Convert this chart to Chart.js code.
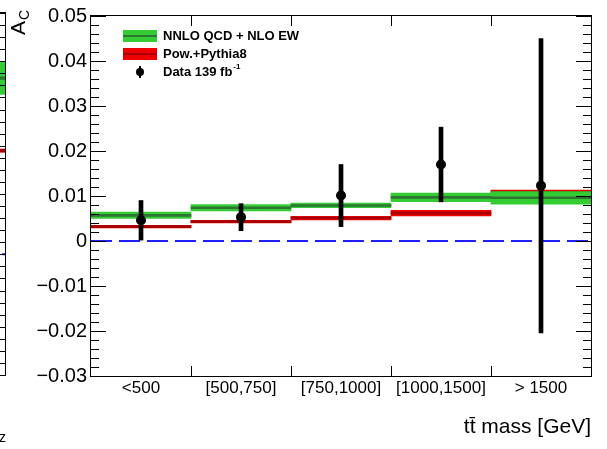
<!DOCTYPE html>
<html>
<head>
<meta charset="utf-8">
<script src="https://cdn.jsdelivr.net/npm/chart.js@4.4.0/dist/chart.umd.min.js"></script>
<style>
body { margin: 0; background: #fff; overflow: hidden; }
#wrap { position: relative; width: 607px; height: 449px; overflow: hidden; background: #fff; }
#leftChart { position: absolute; left: -194px; top: 0; }
#myChart { position: absolute; left: 0; top: 0; }
</style>
</head>
<body>
<div id="wrap">
<canvas id="leftChart" width="200" height="449"></canvas>
<canvas id="myChart" width="607" height="449"></canvas>
</div>
<script>
// ttbar mass bins
let massBins = ["<500", "[500,750]", "[750,1000]", "[1000,1500]", "> 1500"];
let binCenters = [0.5, 1.5, 2.5, 3.5, 4.5];
let binEdges = [0, 1, 2, 3, 4, 5];

let nnloValue = [0.0057, 0.0074, 0.0079, 0.0097, 0.0096];
let nnloErr = [0.0007, 0.0007, 0.0005, 0.00095, 0.0014];
let powValue = [0.0032, 0.0043, 0.0051, 0.0062, 0.0109];
let powErr = [0.0003, 0.0003, 0.0004, 0.0006, 0.0004];
let dataValue = [0.0046, 0.0053, 0.0101, 0.0170, 0.0123];
let dataErr = [0.0044, 0.0030, 0.0069, 0.0083, 0.0327];

let yTickValues = [-0.03, -0.02, -0.01, 0, 0.01, 0.02, 0.03, 0.04, 0.05];
let yTickLabels = ["\u22120.03", "\u22120.02", "\u22120.01", "0", "0.01", "0.02", "0.03", "0.04", "0.05"];
let yMin = -0.03, yMax = 0.05, yMinorStep = 0.002;

// neighbouring panel (only its last bin is visible)
let leftCenters = [0.5];
let leftNnlo = [0.0292];
let leftNnloErr = [0.0027];
let leftPow = [0.0172];
let leftPowErr = [0.00025];
let leftMin = -0.02, leftMax = 0.04;

let lineHalf = 0.00022;
let green = "#33cc33", darkGreen = "#2e7534", red = "#ee0000", darkRed = "#a80000";

Chart.defaults.font.family = "'Liberation Sans', Arial, Helvetica, sans-serif";
Chart.defaults.color = "#000";

function band(centers, vals, errs) {
    return centers.map((c, i) => ({x: c, y: [vals[i] - errs[i], vals[i] + errs[i]]}));
}
function centerLine(centers, vals) {
    return centers.map((c, i) => ({x: c, y: [vals[i] - lineHalf, vals[i] + lineHalf]}));
}

let frameTicks = {
    id: "frameTicks",
    afterDatasetsDraw(chart) {
        let ctx = chart.ctx, a = chart.chartArea;
        let xs = chart.scales.x, ys = chart.scales.y;
        ctx.save();
        ctx.strokeStyle = "#000";
        ctx.lineWidth = 1;
        ctx.beginPath();
        let n = Math.round((yMax - yMin) / yMinorStep);
        for (let k = 0; k <= n; k++) {
            let y = Math.round(ys.getPixelForValue(yMin + k * yMinorStep)) + 0.5;
            let len = k % 5 == 0 ? 15 : 8;
            ctx.moveTo(a.left, y); ctx.lineTo(a.left + len, y);
            ctx.moveTo(a.right, y); ctx.lineTo(a.right - len, y);
        }
        binEdges.slice(1, -1).forEach(v => {
            let x = Math.round(xs.getPixelForValue(v)) + 0.5;
            ctx.moveTo(x, a.top); ctx.lineTo(x, a.top + 10);
            ctx.moveTo(x, a.bottom); ctx.lineTo(x, a.bottom - 10);
        });
        ctx.stroke();
        ctx.strokeRect(a.left - 0.5, a.top - 0.5, a.right - a.left + 1, a.bottom - a.top + 1);
        ctx.restore();
    },
    afterDraw(chart) {
        let ctx = chart.ctx;
        ctx.save();
        // y axis title A_C
        ctx.translate(25, 35);
        ctx.rotate(-Math.PI / 2);
        ctx.fillStyle = "#000";
        ctx.textBaseline = "alphabetic";
        ctx.font = "21px 'Liberation Sans', Arial, sans-serif";
        ctx.fillText("A", 0, 0);
        let w = ctx.measureText("A").width;
        ctx.font = "14px 'Liberation Sans', Arial, sans-serif";
        ctx.fillText("C", w + 1, 4);
        ctx.restore();

        // legend
        ctx.save();
        ctx.fillStyle = green; ctx.fillRect(123, 30, 34, 12);
        ctx.fillStyle = darkGreen; ctx.fillRect(123, 35, 34, 2);
        ctx.fillStyle = red; ctx.fillRect(123, 48, 34, 12);
        ctx.fillStyle = darkRed; ctx.fillRect(123, 53, 34, 2);
        ctx.fillStyle = "#000";
        ctx.fillRect(139, 66, 2, 12);
        ctx.beginPath(); ctx.arc(140, 72, 4, 0, Math.PI * 2); ctx.fill();
        ctx.font = "bold 13px 'Liberation Sans', Arial, sans-serif";
        ctx.textBaseline = "middle";
        ctx.fillText("NNLO QCD + NLO EW", 163, 36);
        ctx.fillText("Pow.+Pythia8", 163, 54);
        ctx.fillText("Data 139 fb", 163, 72);
        let dw = ctx.measureText("Data 139 fb").width;
        ctx.font = "bold 8px 'Liberation Sans', Arial, sans-serif";
        ctx.fillText("-1", 163 + dw + 1, 67);
        ctx.restore();
    }
};

new Chart("myChart", {
    type: "bar",
    data: {
        datasets: [
            {type: "line", data: [{x: binEdges[0], y: 0}, {x: binEdges[5], y: 0}], borderColor: "#2020ff",
             borderWidth: 2, borderDash: [21, 7], pointRadius: 0, order: 3},
            {data: band(binCenters, dataValue, dataErr), backgroundColor: "#000", barThickness: 4, order: 1},
            {type: "line", data: binCenters.map((c, i) => ({x: c, y: dataValue[i]})), showLine: false,
             pointRadius: 5, pointBackgroundColor: "#000", pointBorderColor: "#000", pointBorderWidth: 0, order: 0},
            {data: centerLine(binCenters, nnloValue), backgroundColor: darkGreen, order: 4},
            {data: band(binCenters, nnloValue, nnloErr), backgroundColor: green, order: 5},
            {data: centerLine(binCenters, powValue), backgroundColor: darkRed, order: 6},
            {data: band(binCenters, powValue, powErr), backgroundColor: red, order: 7}
        ]
    },
    options: {
        responsive: false,
        animation: false,
        events: [],
        layout: {padding: {left: 0, right: 16, top: 13, bottom: 0}},
        datasets: {bar: {grouped: false, barPercentage: 1, categoryPercentage: 1, borderWidth: 0}},
        plugins: {legend: {display: false}, tooltip: {enabled: false}},
        scales: {
            x: {
                type: "linear", min: 0, max: 5, offset: false,
                grid: {display: false, drawTicks: false}, border: {display: false},
                afterBuildTicks: s => { s.ticks = binCenters.map(v => ({value: v})); },
                afterFit: s => { s.height = 73; },
                ticks: {autoSkip: false, maxRotation: 0, padding: 2, font: {size: 17},
                        callback: (v, i) => massBins[i]},
                title: {display: true, text: "tt\u0304 mass [GeV]", align: "end", font: {size: 21},
                        padding: {top: 0, bottom: 9}}
            },
            y: {
                min: yMin, max: yMax,
                grid: {display: false, drawTicks: false}, border: {display: false},
                afterBuildTicks: s => { s.ticks = yTickValues.map(v => ({value: v})); },
                afterFit: s => { s.width = 91; },
                ticks: {padding: 4, font: {size: 20}, callback: (v, i) => yTickLabels[i]}
            }
        }
    },
    plugins: [frameTicks]
});

let leftFrame = {
    id: "leftFrame",
    afterDatasetsDraw(chart) {
        let ctx = chart.ctx, a = chart.chartArea, ys = chart.scales.y;
        ctx.save();
        ctx.strokeStyle = "#000";
        ctx.lineWidth = 1;
        ctx.beginPath();
        let n = Math.round((leftMax - leftMin) / yMinorStep);
        for (let k = 0; k <= n; k++) {
            let y = Math.round(ys.getPixelForValue(leftMin + k * yMinorStep)) + 0.5;
            ctx.moveTo(a.right, y); ctx.lineTo(a.right - (k % 5 == 0 ? 15 : 8), y);
        }
        ctx.stroke();
        ctx.strokeRect(a.left + 0.5, a.top - 0.5, a.right - a.left - 1, a.bottom - a.top + 1);
        ctx.restore();
    },
    afterDraw(chart) {
        let ctx = chart.ctx;
        ctx.save();
        ctx.fillStyle = "#000";
        ctx.textAlign = "right";
        ctx.font = "14px 'Liberation Sans', Arial, sans-serif";
        ctx.fillText("z", 200, 442);
        let zw = ctx.measureText("z").width;
        ctx.font = "20px 'Liberation Sans', Arial, sans-serif";
        ctx.fillText("\u03b2", 200 - zw, 434);
        ctx.restore();
    }
};

new Chart("leftChart", {
    type: "bar",
    data: {
        datasets: [
            {type: "line", data: [{x: 0, y: 0}, {x: 1, y: 0}], borderColor: "#2020ff",
             borderWidth: 2, borderDash: [21, 7], pointRadius: 0, order: 3},
            {data: centerLine(leftCenters, leftNnlo), backgroundColor: darkGreen, order: 4},
            {data: band(leftCenters, leftNnlo, leftNnloErr), backgroundColor: green, order: 5},
            {data: centerLine(leftCenters, leftPow), backgroundColor: darkRed, order: 6},
            {data: band(leftCenters, leftPow, leftPowErr), backgroundColor: red, order: 7}
        ]
    },
    options: {
        responsive: false,
        animation: false,
        events: [],
        layout: {padding: {left: 0, right: 0, top: 13, bottom: 74}},
        datasets: {bar: {grouped: false, barPercentage: 1, categoryPercentage: 1, borderWidth: 0}},
        plugins: {legend: {display: false}, tooltip: {enabled: false}},
        scales: {
            x: {type: "linear", min: 0, max: 1, offset: false, display: false,
                afterBuildTicks: s => { s.ticks = [{value: 0}, {value: 1}]; }},
            y: {min: leftMin, max: leftMax, display: false}
        }
    },
    plugins: [leftFrame]
});
</script>
</body>
</html>
